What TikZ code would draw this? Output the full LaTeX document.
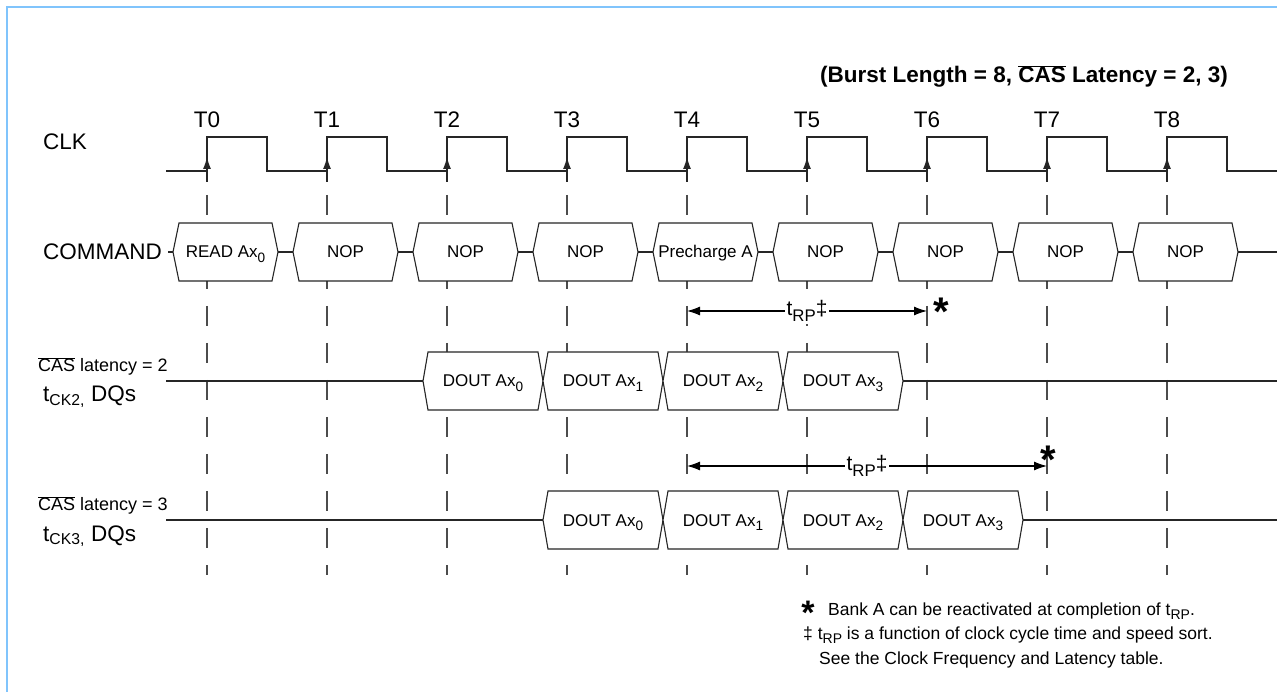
\documentclass[tikz,border=0pt]{standalone}
\usepackage{fontspec}
\setmainfont{Liberation Sans}
\usepackage{graphicx}
\usepackage{tikz}
\usetikzlibrary{arrows.meta}
\definecolor{framecol}{RGB}{128,196,252}

\newcommand{\dsub}[1]{\raisebox{-0.28em}{\scalebox{0.8}{#1}}}
\newcommand{\casbar}{$\overline{\mbox{CAS}}$}

\begin{document}
\begin{tikzpicture}[x=1pt, y=-1pt,
    sig/.style={draw=black!85, line width=1.1pt},
    guide/.style={draw=black!70, line width=1.1pt, dash pattern=on 20pt off 17pt},
    lbl/.style={font=\fontsize{22.5}{26}\selectfont, inner sep=0pt},
    boxtxt/.style={font=\fontsize{17}{20}\selectfont, inner sep=0pt, anchor=base},
    cltxt/.style={font=\fontsize{18}{21}\selectfont, inner sep=0pt, anchor=base west},
    note/.style={font=\fontsize{17.5}{21}\selectfont, inner sep=0pt, anchor=base west},
    span/.style={draw=black, line width=1.1pt, {Latex[length=13pt,width=9pt]}-{Latex[length=13pt,width=9pt]}},
    rplbl/.style={font=\fontsize{21}{24}\selectfont, fill=white, inner sep=2pt},
    starmark/.style={font=\fontsize{40}{40}\selectfont\bfseries, inner sep=0pt, anchor=base}]
    \useasboundingbox (0,0) rectangle (1286,692);

    % Frame and title
    \draw[framecol, line width=2pt] (7,692) -- (7,7) -- (1277,7);
    \node[font=\fontsize{22.5}{26}\selectfont\bfseries, inner sep=0pt, anchor=base] (title) at (1024,83)
        {(Burst Length = 8, \casbar{} Latency = 2, 3)};

    % Row labels
    \node[lbl, anchor=base west] (clk) at (43,150) {CLK};
    \node[lbl, anchor=base east] (cmd) at (162,260) {COMMAND};
    \node[cltxt] (cl2) at (38,372) {\casbar{} latency = 2};
    \node[lbl, anchor=base west] (dq2) at (43,402) {t\textsubscript{CK2,} DQs};
    \node[cltxt] (cl3) at (38,511) {\casbar{} latency = 3};
    \node[lbl, anchor=base west] (dq3) at (43,541) {t\textsubscript{CK3,} DQs};

    % Clock edges, names and guides
    \foreach \k in {0,...,8} {
        \pgfmathsetmacro\tx{207+120*\k}
        \coordinate (T\k) at (\tx,171);
        \node[lbl, anchor=base] (lab\k) at (\tx,128) {T\k};
        \draw[guide] (\tx,195) -- (\tx,575);
    }
    \draw[sig] (166,171) foreach \k in {0,...,8} {
        -- ({207+120*\k},171) -- ++(0,-34) -- ++(60,0) -- ++(0,34) } -- (1277,171);
    \foreach \k in {0,...,8}
        \draw[sig, -{Latex[length=12pt,width=8pt]}] ([yshift=-11pt]T\k) -- ([yshift=14pt]T\k);

    % Signal lines
    \draw[sig] (168,252) -- (1277,252);
    \draw[sig] (166,381) -- (1277,381);
    \draw[sig] (166,520) -- (1277,520);

    % Commands
    \foreach \k/\txt in {0/READ Ax\dsub{0}, 1/NOP, 2/NOP, 3/NOP, 4/Precharge A,
                         5/NOP, 6/NOP, 7/NOP, 8/NOP} {
        \pgfmathsetmacro\tx{207+120*\k}
        \draw[sig, fill=white] (\tx-34,252) -- (\tx-28,223) -- (\tx+65,223) -- (\tx+71,252)
            -- (\tx+65,281) -- (\tx-28,281) -- cycle;
        \node[boxtxt] (c\k) at (\tx+18.5,258) {\txt};
    }

    % Data out, CAS latency = 2 and 3
    \foreach \row/\y/\first in {a/381/2, b/520/3} {
        \foreach \n in {0,...,3} {
            \pgfmathsetmacro\tx{207+120*(\first+\n)}
            \draw[sig, fill=white] (\tx-24,\y) -- (\tx-19,\y-29) -- (\tx+91,\y-29) -- (\tx+96,\y)
                -- (\tx+91,\y+29) -- (\tx-19,\y+29) -- cycle;
            \node[boxtxt] (d\row\n) at (\tx+36,\y+6) {DOUT Ax\dsub{\n}};
        }
    }

    % tRP spans
    \coordinate (rp1s) at (687,311);
    \coordinate (rp1e) at (927,311);
    \coordinate (rp2s) at (687,466);
    \coordinate (rp2e) at (1047,466);
    \draw[span] (rp1s) -- node[rplbl] (rp1) {t\dsub{RP}\ddag} (rp1e);
    \draw[span] (rp2s) -- node[rplbl] (rp2) {t\dsub{RP}\ddag} (rp2e);
    \node[starmark] (star1) at (941,326) {*};
    \node[starmark] (star2) at (1048,474) {*};

    % Notes
    \node[starmark, font=\fontsize{34}{34}\selectfont\bfseries] (fstar) at (808,624) {*};
    \node[note] (n1) at (828,615) {Bank A can be reactivated at completion of t\dsub{RP}.};
    \node[note] (n2) at (803,639) {\ddag{} t\dsub{RP} is a function of clock cycle time and speed sort.};
    \node[note] (n3) at (819,664) {See the Clock Frequency and Latency table.};
\end{tikzpicture}
\end{document}
